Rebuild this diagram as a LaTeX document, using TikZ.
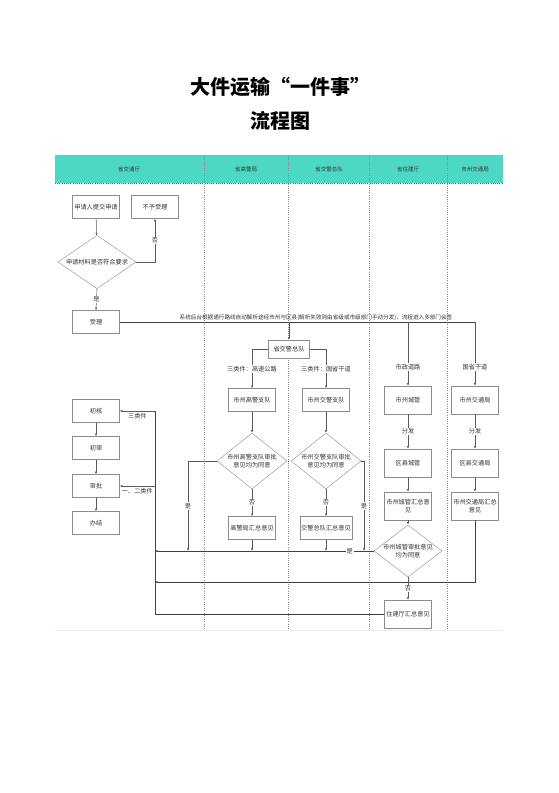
\documentclass[tikz,border=0pt]{standalone}
\usepackage{fontspec}
\setmainfont{Noto Sans CJK SC}
\usetikzlibrary{shapes.geometric,arrows.meta}
\definecolor{bandteal}{HTML}{4DD8C4}

\begin{document}
\begin{tikzpicture}[x=1pt, y=-1pt,
  every node/.style={font=\fontsize{6.2}{7.6}\selectfont, text=black!80},
  box/.style={draw=black!45, fill=white, minimum width=47pt, minimum height=23pt, inner sep=1pt, align=center},
  tallbox/.style={box, minimum height=28pt},
  judge/.style={draw=black!45, fill=white, diamond, inner sep=0pt, align=center},
  lbl/.style={fill=white, inner sep=1pt},
  flow/.style={draw=black!65, line width=0.5pt, -{Latex[length=2.6pt,width=2.2pt]}},
  bus/.style={draw=black!75, line width=0.9pt},
  lane/.style={draw=black!45, dash pattern=on 1pt off 1.2pt, line width=0.4pt}]
\useasboundingbox (0,0) rectangle (559,793);

% Title
\node[font=\fontsize{20}{24}\selectfont\bfseries, text=black] (title) at (280,87) {大件运输“一件事”};
\node[font=\fontsize{20}{24}\selectfont\bfseries, text=black] (subtitle) at (280,121) {流程图};

% Header band and lanes
\fill[bandteal] (55,155) rectangle (503,183);
\draw[lane, draw=black!60] (55,183) -- (503,183);
\foreach \x in {204,288,369,447}
  \draw[lane] (\x,155) -- (\x,630);
\draw[black!8, line width=0.8pt] (55,630) -- (503,630);
\foreach \x/\t in {129/省交通厅, 246/省高警局, 329/省交警总队, 408/省住建厅, 475/市州交通局}
  \node[font=\fontsize{5.5}{6.5}\selectfont] (head\x) at (\x,169) {\t};

% Application
\node[box] (apply) at (96,207) {申请人提交申请};
\node[box] (reject) at (155,207) {不予受理};
\node[judge, aspect=1.3, minimum width=78pt, minimum height=52pt] (material) at (97,262) {申请材料是否符合要求};
\node[box] (accept) at (96,322) {受理};
\draw[flow] (apply) -- (material);
\draw[flow] (material.east) -| node[lbl, pos=0.75] (noReject) {否} (reject.south);
\draw[flow] (material.south) -- node[lbl] (yesAccept) {是} (accept.north);

% Left column
\foreach \n/\y/\t in {first/411/初核, second/448/初审, approve/486/审批, finish/523/办结}
  \node[box] (\n) at (96,\y) {\t};
\draw[flow] (first) -- (second);
\draw[flow] (second) -- (approve);
\draw[flow] (approve) -- (finish);

% Dispatch
\coordinate (busEnd) at (475,322);
\draw[bus] (accept.east) -- (busEnd);
\node[anchor=south, font=\fontsize{5.6}{6.5}\selectfont, inner sep=1.5pt] (busNote) at (316,322)
  {系统后台根据通行路线自动解析途经市州与区县(解析失败则由省级或市级部门手动分发)，流程进入多部门会签};

\node[box, minimum width=41pt, minimum height=18pt] (corps) at (289,349) {省交警总队};
\node[box] (hwy) at (252,400) {市州高警支队};
\node[box] (traffic) at (326,400) {市州交警支队};
\node[tallbox] (urban) at (408,400) {市州城管};
\node[tallbox] (cityTrans) at (475,400) {市州交通局};
\node[tallbox] (countyUrban) at (408,463) {区县城管};
\node[tallbox] (countyTrans) at (475,463) {区县交通局};
\node[tallbox] (urbanSum) at (408,506) {市州城管汇总意\\见};
\node[tallbox] (transSum) at (475,506) {市州交通局汇总\\意见};
\node[judge, aspect=1.25, minimum width=70pt, minimum height=56pt] (hwyOk) at (252,461) {市州高警支队审批\\意见均为同意};
\node[judge, aspect=1.25, minimum width=70pt, minimum height=56pt] (trafficOk) at (326,461) {市州交警支队审批\\意见均为同意};
\node[box] (hwySum) at (252,528) {高警局汇总意见};
\node[box] (trafficSum) at (326,528) {交警总队汇总意见};
\node[judge, aspect=1.3, minimum width=68pt, minimum height=52pt] (urbanOk) at (408,551) {市州城管审批意见\\均为同意};
\node[tallbox] (provSum) at (408,614) {住建厅汇总意见};

\draw[flow] (corps.north |- busEnd) -- (corps.north);
\draw[flow] (urban.north |- busEnd) -- node[lbl, pos=0.7] (roadCity) {市政道路} (urban.north);
\draw[flow] (busEnd) -- node[lbl, pos=0.7] (roadProv) {国省干道} (cityTrans.north);
\draw[flow] (corps.west) -| node[lbl, pos=0.75] (caseHwy) {三类件：高速公路} (hwy.north);
\draw[flow] (corps.east) -| node[lbl, pos=0.75] (caseRoad) {三类件：国省干道} (traffic.north);

\draw[flow] (hwy) -- (hwyOk);
\draw[flow] (traffic) -- (trafficOk);
\draw[flow] (hwyOk.south) -- node[lbl] (noHwy) {否} (hwySum.north);
\draw[flow] (trafficOk.south) -- node[lbl] (noTraffic) {否} (trafficSum.north);
\draw[flow] (urban) -- node[lbl] (sendUrban) {分发} (countyUrban);
\draw[flow] (cityTrans) -- node[lbl] (sendTrans) {分发} (countyTrans);
\draw[flow] (countyUrban) -- (urbanSum);
\draw[flow] (countyTrans) -- (transSum);
\draw[flow] (urbanSum) -- (urbanOk);

% Collect opinions
\coordinate (joinA) at (155,551);
\coordinate (joinB) at (155,582);
\coordinate (joinC) at (155,614);
\coordinate (toFirst) at (155,411);
\coordinate (toApprove) at (155,486);
\draw[flow] (hwyOk.west) -| node[lbl, pos=0.75] (yesHwy) {是} (188,551);
\draw[flow] (trafficOk.east) -| node[lbl, pos=0.75] (yesTraffic) {是} (364,551);
\draw[flow] (hwySum.south) -- (hwySum.south |- joinA);
\draw[flow] (trafficSum.south) -- (trafficSum.south |- joinA);
\draw[bus, -{Latex[length=2.6pt,width=2.2pt]}] (urbanOk.west) -- node[lbl, pos=0.11] (yesUrban) {是} (joinA);
\draw[bus, -{Latex[length=2.6pt,width=2.2pt]}] (transSum.south) |- (joinB);
\draw[flow] (urbanOk.south) -- node[lbl] (noUrban) {否} (provSum.north);
\draw[bus] (provSum.west) -- (joinC) -- (toFirst);
\draw[flow] (toFirst) -- node[below=2pt, inner sep=0pt] (caseThree) {三类件} (first.east);
\draw[flow] (toApprove) -- node[below=2pt, inner sep=0pt] (caseOneTwo) {一、二类件} (approve.east);
\end{tikzpicture}
\end{document}
